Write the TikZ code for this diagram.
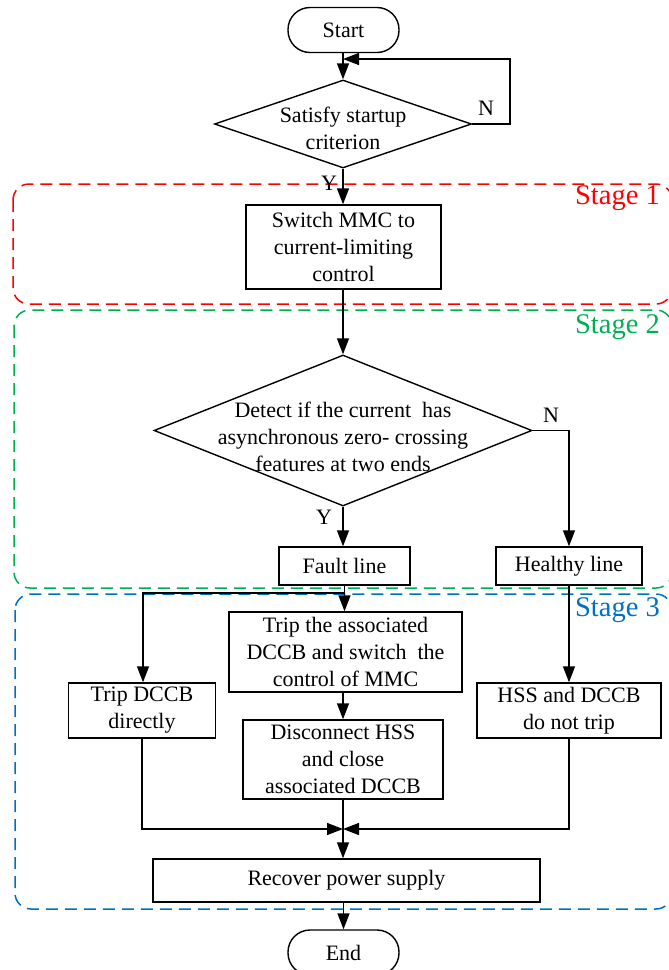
\documentclass[tikz,border=0pt]{standalone}
\usepackage{fontspec}
\setmainfont{Liberation Serif}
\usetikzlibrary{shapes.geometric,arrows.meta}
\definecolor{sred}{RGB}{255,0,0}
\definecolor{sgreen}{RGB}{0,176,80}
\definecolor{sblue}{RGB}{0,112,192}
\tikzset{
  txt/.style={font=\fontsize{22}{27}\selectfont, align=center, inner sep=0pt},
  box/.style={draw, line width=1.4pt, inner sep=0pt, font=\fontsize{22}{27}\selectfont, align=center},
  term/.style={box, rounded corners=22pt},
  dia/.style={draw, diamond, line width=1.4pt, inner sep=0pt},
  flow/.style={line width=1.4pt, -{Triangle[length=16pt,width=12pt]}},
  plain/.style={line width=1.4pt},
  stagebox/.style={line width=1.5pt, dash pattern=on 12pt off 7pt, rounded corners=16pt},
  stagelbl/.style={font=\fontsize{28.5}{30}\selectfont, anchor=east, inner sep=0pt},
  yn/.style={font=\fontsize{22}{27}\selectfont, inner sep=0pt}
}
\begin{document}
\begin{tikzpicture}[x=1pt,y=-1pt]
\useasboundingbox (0,0) rectangle (669,970);
% stage frames
\draw[stagebox, sred] (13,184) rectangle (672,304);
\draw[stagebox, sgreen] (14,310) rectangle (672,588);
\draw[stagebox, sblue] (15,594) rectangle (672,909);
\node[stagelbl, text=sred] (s1) at (660,198) {Stage 1};
\node[stagelbl, text=sgreen] (s2) at (660,327) {Stage 2};
\node[stagelbl, text=sblue] (s3) at (660,610) {Stage 3};
% nodes
\node[term, minimum width=111pt, minimum height=45pt] (start) at (343.5,30) {Start};
\node[dia, minimum width=257pt, minimum height=88pt] (d1) at (343,124) {};
\node[txt] (d1t) at (343,128) {Satisfy startup\\criterion};
\node[box, minimum width=195pt, minimum height=84pt] (b1) at (343.5,247) {Switch MMC to\\current-limiting\\control};
\node[dia, minimum width=378pt, minimum height=151pt] (d2) at (343,430.5) {};
\node[txt] (d2t) at (343,437) {Detect if the current~ has\\asynchronous zero- crossing\\features at two ends};
\node[box, minimum width=131pt, minimum height=38pt] (fault) at (344.5,566) {Fault line};
\node[box, minimum width=146pt, minimum height=38pt] (healthy) at (569,566) {Healthy line};
\node[box, minimum width=233pt, minimum height=80pt] (trip1) at (345.5,652) {Trip the associated\\DCCB and switch~ the\\control of MMC};
\node[box, minimum width=147pt, minimum height=55pt] (tripd) at (142,710.5) {Trip DCCB\\directly};
\node[box, minimum width=200pt, minimum height=79pt] (disc) at (343,759.5) {Disconnect HSS\\and close\\associated DCCB};
\node[box, minimum width=184pt, minimum height=55pt] (hss) at (569,710.5) {HSS and DCCB\\do not trip};
\node[box, minimum width=387pt, minimum height=43pt] (rec) at (346.5,880.5) {Recover power supply};
\node[term, minimum width=111pt, minimum height=45pt] (end) at (343.5,952.5) {End};
% helper coordinates
\coordinate (lr) at (510,124);
\coordinate (lt) at (510,59);
\coordinate (lin) at (343,59);
\coordinate (nc) at (569,430.5);
\coordinate (sp) at (344.5,593);
\coordinate (spl) at (143,593);
\coordinate (ml) at (142,829);
\coordinate (mr) at (569,829);
\coordinate (m) at (343,829);
% connectors
\draw[flow] (start.south -| d1.north) -- (d1.north);
\draw[flow] (d1.east) -- (lr) -- (lt) -- (lin);
\draw[flow] (d1.south) -- (d1.south |- b1.north);
\draw[flow] (b1.south -| d2.north) -- (d2.north);
\draw[flow] (d2.south) -- (d2.south |- fault.north);
\draw[flow] (d2.east) -- (nc) -- (healthy.north);
\draw[plain] (fault.south) -- (sp);
\draw[flow] (sp) -- (sp |- trip1.north);
\draw[flow] (sp) -- (spl) -- (spl |- tripd.north);
\draw[flow] (healthy.south) -- (hss.north);
\draw[flow] (trip1.south -| disc.north) -- (disc.north);
\draw[flow] (disc.south) -- (disc.south |- rec.north);
\draw[flow] (ml |- tripd.south) -- (ml) -- (m);
\draw[flow] (mr |- hss.south) -- (mr) -- (m);
\draw[flow] (rec.south -| end.north) -- (end.north);
% Y / N labels
\node[yn] (y1) at (329,183) {Y};
\node[yn] (n1) at (486,108) {N};
\node[yn] (y2) at (324,517) {Y};
\node[yn] (n2) at (551,415) {N};
\end{tikzpicture}
\end{document}
